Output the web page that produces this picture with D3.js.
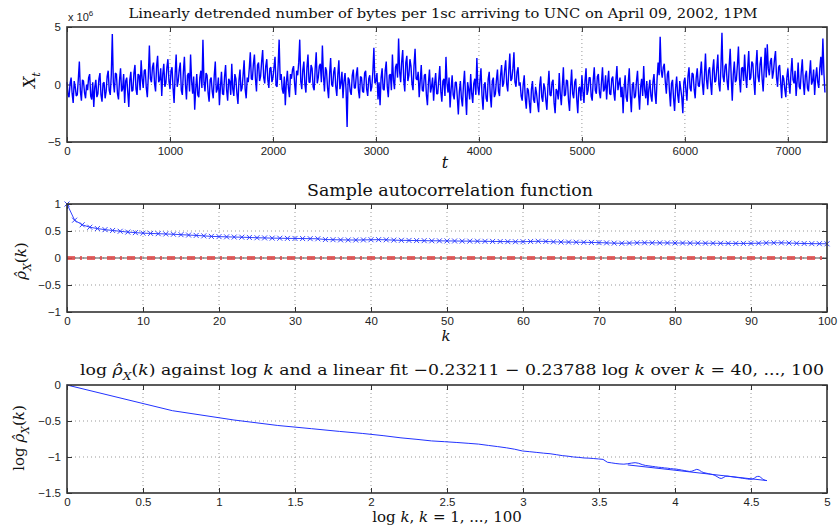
<!DOCTYPE html>
<html>
<head>
<meta charset="utf-8">
<script src="https://cdn.jsdelivr.net/npm/d3@7"></script>
<style>
    body { margin: 0; background: #fff; }
    svg text { font-family: "Liberation Sans", Arial, sans-serif; }
    .axis .tick text { font-size: 11.5px; fill: #222; }
    .axis .tick line { stroke: #333; }
    .grid line { stroke: #999; stroke-dasharray: 1,3; }
    .serif { font-family: "DejaVu Serif", "Liberation Serif", serif; fill: #111; }
</style>
</head>
<body>
<svg id="chart" width="840" height="526"></svg>
<script>
// ---- data ----

// detrended bytes per 1sc, in units of 10^6, read every 10 sc
const trafficStep = 10;
const traffic = [
    0.2, -0.9, -1.1, 0.1, 0.6, -0.8, -1.6, 0.3, -0.2, -1.0, -0.9, 0.5, 2.0, -0.6, -1.4, 0.4, 0.3, -0.7, -1.2, 0.0,
    -0.5, 0.6, 0.9, -1.0, -1.3, 0.2, -1.95, -0.2, 0.4, -1.1, -0.8, 0.5, 1.0, -0.9, -1.5, 0.1, 0.2, -1.2, -0.6, 0.7,
    1.2, -0.5, -0.9, 0.8, 4.4, 0.2, -0.7, 1.0, 0.9, -0.8, -1.3, 0.4, 1.4, -0.6, -0.4, 0.9, -1.6, 0.3, 0.6, -0.7,
    -1.95, 0.4, 1.1, -0.6, -0.5, 1.0, 1.7, -0.4, -0.9, 0.9, 0.8, -0.5, 2.1, 0.5, -0.3, 1.2, 1.3, -0.3, -1.1, 0.8,
    3.4, 0.5, 0.2, 1.5, 1.9, 0.1, -0.6, 1.6, 2.5, 0.2, 0.4, 1.4, -1.0, 0.9, 1.8, -0.2, 0.1, 1.5, 2.2, 0.3,
    -0.4, 1.2, 1.5, -0.3, -1.6, 0.9, 2.6, -0.2, 0.3, 1.3, 1.9, -0.5, -0.9, 1.1, 2.4, 0.0, -1.3, 0.8, 1.0, -0.6,
    2.6, 0.3, -0.8, 0.7, -2.2, -0.4, 0.9, -0.9, -1.1, 0.6, 1.2, -0.3, 3.9, 0.2, -0.6, 1.0, 0.8, -0.7, -1.5, 0.4,
    0.6, -0.6, -1.2, 0.8, 2.0, -0.7, -0.4, 0.6, -1.8, -0.2, 1.1, -0.8, -0.9, 0.7, 1.7, -0.5, -1.4, 0.5, 0.3, -0.9,
    1.8, -0.4, -1.0, 0.9, 0.5, -0.8, -1.7, 0.4, 1.3, -0.6, -0.3, 0.8, 2.1, -0.4, -1.2, 0.6, 0.2, 1.4, 2.8, 0.5,
    0.4, 1.8, 2.6, 0.5, -0.6, 1.7, 1.9, 0.3, 0.7, 2.0, 3.0, 0.6, 0.1, 1.6, 2.2, 0.4, -0.3, 1.4, 1.5, 0.2,
    0.6, 1.5, 2.4, -0.1, -0.2, 1.6, 3.9, 0.4, 0.9, -0.4, -0.8, 0.7, -1.8, 0.2, 1.2, -0.3, -1.1, 0.9, 0.5, 1.3,
    1.6, 0.1, -0.9, 1.2, 0.8, 1.9, 3.9, 0.3, -0.4, 1.3, 2.0, 0.0, -0.7, 1.5, 2.6, 0.2, 0.2, 1.7, 1.4, -0.2,
    -0.5, 1.4, 2.8, 0.1, 0.6, 1.6, 1.8, 0.2, 3.4, 0.8, -0.6, 1.5, 1.2, -0.3, -1.2, 0.9, 2.3, 0.0, -0.2, 1.1,
    1.5, -0.2, -1.0, 0.9, 2.1, -0.4, 0.1, 1.1, -1.2, 0.3, 1.0, -0.5, -3.7, 0.6, 0.4, -0.6, -0.9, 0.8, 1.3, -0.3,
    -0.3, 0.9, 1.5, -0.5, -1.2, 0.7, 0.6, -0.6, -0.7, 1.0, 1.2, -0.4, -1.0, 0.5, 0.8, -0.6, -0.2, 1.1, 3.2, 0.1,
    0.3, 1.0, -1.3, 0.2, -1.8, 0.6, 1.4, -0.4, -0.5, 1.2, 2.0, -0.2, -1.1, 0.8, 0.9, -0.5, 2.6, 0.4, -0.4, 1.5,
    1.8, 0.6, 4.0, 1.1, 0.2, 2.0, 3.0, 0.4, -0.6, 1.9, 2.5, 0.3, 0.8, 2.2, 1.6, 0.1, -0.5, 1.7, 3.1, 0.5,
    0.4, 1.1, -1.1, 0.3, 1.7, -0.5, -0.6, 0.8, 0.9, -0.9, -1.8, 0.2, 1.3, -0.7, -0.2, 0.6, -1.4, 0.1, 1.0, -0.8,
    -0.8, 0.4, 1.6, -0.6, -1.5, 0.3, 0.5, -1.0, 2.4, 0.1, -0.7, 0.6, -2.0, -0.4, 0.8, -0.9, -1.3, 0.2, 0.2, -1.1,
    -2.6, -0.6, 0.3, -1.2, -1.9, 0.0, 1.2, -1.0, -2.65, 0.2, -0.4, -1.3, 0.9, -0.8, -1.6, 0.1, 0.5, -0.9, 2.3, -0.2,
    -0.9, 0.4, 1.4, -1.0, -2.2, -0.1, 0.2, -1.2, -1.5, 0.5, 1.1, -0.9, -2.0, 0.3, 0.6, -1.1, -0.8, 0.4, 1.3, -0.6,
    -1.0, 0.8, 1.7, -0.2, 0.1, 1.3, 2.1, 0.0, -0.6, 1.2, 2.7, 0.3, 0.5, 1.4, 2.8, 0.2, -0.2, 1.1, 1.5, -0.1,
    0.2, -1.0, -1.4, 0.0, 0.8, -1.2, -2.1, -0.3, -0.5, -1.6, -2.5, -0.4, 0.3, -1.3, -1.6, -0.2, -0.8, -1.7, -2.4, -0.1,
    0.7, -1.1, -1.5, 0.1, -0.3, -1.4, -2.2, -0.2, 1.2, -0.9, -1.0, 0.2, 0.4, -1.6, -2.5, -0.4, -0.6, -1.3, 1.0, -0.8,
    -1.8, -0.1, 1.5, -1.0, -0.9, 0.4, 0.3, -1.4, -2.3, -0.2, 1.3, -0.8, -1.2, 0.2, 0.5, -1.3, -2.5, -0.3, -0.2, -1.4,
    0.8, -0.6, -1.6, 0.3, 1.4, -0.9, -0.5, 0.6, 0.6, -1.0, -1.4, 0.4, 1.5, -0.5, -0.8, 0.7, 0.9, -0.7, -1.2, 0.2,
    1.5, -0.6, -0.4, 0.8, -1.3, 0.2, 1.2, -0.8, -0.9, 0.5, 0.7, -0.7, -1.4, 0.4, 1.6, -0.5, 0.1, 0.6, -1.1, -0.2,
    -2.5, -0.3, 0.8, -1.1, -1.5, 0.2, 1.4, -0.9, -2.4, -0.1, 0.2, -1.2, -1.0, 0.3, 1.2, -0.8, -2.2, -0.2, 0.5, -1.0,
    1.6, -0.5, -1.2, 0.3, -1.8, -0.4, 0.4, -1.0, -1.5, 0.2, 0.9, -0.8, -1.7, 0.5, 1.9, 0.8, 4.15, 1.2, 0.6, 1.5,
    1.8, 0.2, -0.8, 0.9, 1.2, -0.6, -1.9, 0.1, 0.4, -1.2, -2.3, -0.3, 0.7, -0.9, -1.6, 0.3, -0.4, -1.1, -2.5, 0.2,
    0.6, -0.5, -1.4, 0.7, 1.5, -0.3, -0.6, 1.0, 0.9, -0.4, -1.2, 0.6, 1.4, -0.1, -0.2, 0.9, 2.0, 0.1, -0.9, 0.8,
    2.7, 0.4, -0.4, 1.2, 1.5, 0.1, -0.9, 1.3, 2.2, 0.2, 0.3, 1.4, 2.6, 0.0, -0.6, 1.5, 4.5, 0.7, 0.2, 1.6,
    1.8, 0.3, -0.5, 1.6, 3.1, 0.6, -1.4, 0.9, 2.0, 0.2, 0.4, 1.7, 3.3, 0.5, -0.7, 1.4, 1.5, 0.3, 2.6, 0.8,
    -0.3, 1.5, 2.9, 0.4, 0.6, 2.0, 1.8, 0.3, -0.9, 1.6, 3.0, 0.7, 0.2, 1.8, 2.4, 0.5, -0.6, 1.3, 3.2, 0.6,
    3.5, 1.4, 0.8, 2.0, 2.3, 0.5, 1.1, 2.2, 2.9, 0.6, -0.2, 1.5, 1.7, 0.2, -1.2, 0.8, 0.5, -0.4, -1.1, 0.6,
    1.4, 0.1, -0.8, 1.0, 2.3, 0.4, 0.1, 1.2, -1.0, 0.3, 1.9, -0.2, -0.4, 1.1, 2.2, 0.2, -0.9, 0.8, 1.2, -0.3,
    -0.6, 0.9, 2.1, 0.0, 0.3, 1.3, -0.9, 0.6, 1.5, 0.2, -0.3, 1.4, 2.4, 0.8, 4.0, 1.0, -0.7
];

// sample autocorrelation, lags k = 0..100
const acf = [
    1.00, 0.70, 0.615, 0.57, 0.545, 0.525, 0.51, 0.495, 0.48, 0.47,
    0.46, 0.455, 0.45, 0.445, 0.44, 0.432, 0.425, 0.418, 0.41, 0.40,
    0.396, 0.392, 0.388, 0.385, 0.38, 0.375, 0.372, 0.368, 0.366, 0.363,
    0.362, 0.36, 0.358, 0.356, 0.342, 0.339, 0.336, 0.334, 0.333, 0.335,
    0.338, 0.340, 0.337, 0.331, 0.327, 0.325, 0.323, 0.321, 0.319, 0.318,
    0.316, 0.315, 0.313, 0.312, 0.311, 0.309, 0.307, 0.305, 0.303, 0.301,
    0.302, 0.306, 0.310, 0.307, 0.300, 0.296, 0.294, 0.292, 0.290, 0.288,
    0.285, 0.280, 0.275, 0.273, 0.276, 0.281, 0.282, 0.281, 0.280, 0.279,
    0.278, 0.277, 0.276, 0.275, 0.274, 0.273, 0.272, 0.271, 0.270, 0.270,
    0.271, 0.274, 0.279, 0.281, 0.281, 0.277, 0.272, 0.268, 0.266, 0.265,
    0.263
];

// linear fit from the title: intercept, slope, k range
const fitCoef = [-0.23211, -0.23788];
const fitK = [40, 100];

// tick labels
const tTicks = [0, 1000, 2000, 3000, 4000, 5000, 6000, 7000];
const xtTicks = [-5, 0, 5];
const kTicks = [0, 10, 20, 30, 40, 50, 60, 70, 80, 90, 100];
const acfTicks = [-1, -0.5, 0, 0.5, 1];
const logkTicks = [0, 0.5, 1, 1.5, 2, 2.5, 3, 3.5, 4, 4.5, 5];
const logAcfTicks = [-1.5, -1, -0.5, 0];

// ---- drawing ----
const svg = d3.select("#chart");
const fmt = d3.format("~g");

function makePanel(top, height, xDomain, yDomain, xTicks, yTicks) {
    let p = {};
    p.left = 67;
    p.top = top;
    p.width = 760;
    p.height = height;

    p.g = svg.append("g").attr("transform", `translate(${p.left},${p.top})`);
    p.x = d3.scaleLinear().domain(xDomain).range([0, p.width]);
    p.y = d3.scaleLinear().domain(yDomain).range([p.height, 0]);

    // dotted grid
    let grid = p.g.append("g").attr("class", "grid");
    grid.selectAll(".gx").data(xTicks.slice(1).filter(d => p.x(d) < p.width - 1)).join("line")
        .attr("x1", d => p.x(d)).attr("x2", d => p.x(d))
        .attr("y1", 0).attr("y2", p.height);
    grid.selectAll(".gy").data(yTicks.slice(1, -1)).join("line")
        .attr("y1", d => p.y(d)).attr("y2", d => p.y(d))
        .attr("x1", 0).attr("x2", p.width);

    // axes with inward ticks, box style
    let ax = d3.axisBottom(p.x).tickValues(xTicks).tickFormat(fmt).tickSizeInner(-5).tickSizeOuter(0).tickPadding(5);
    let ay = d3.axisLeft(p.y).tickValues(yTicks).tickFormat(fmt).tickSizeInner(-5).tickSizeOuter(0).tickPadding(6);
    p.g.append("g").attr("class", "axis").attr("transform", `translate(0,${p.height})`).call(ax);
    p.g.append("g").attr("class", "axis").call(ay);
    p.g.append("g").attr("class", "axis")
        .call(d3.axisTop(p.x).tickValues(xTicks).tickFormat("").tickSizeInner(-5).tickSizeOuter(0));
    p.g.append("g").attr("class", "axis").attr("transform", `translate(${p.width},0)`)
        .call(d3.axisRight(p.y).tickValues(yTicks).tickFormat("").tickSizeInner(-5).tickSizeOuter(0));
    p.g.selectAll(".axis .domain").remove();

    return p;
}

function frame(p) {
    p.g.append("rect")
        .attr("width", p.width).attr("height", p.height)
        .attr("fill", "none").attr("stroke", "#333").attr("stroke-width", 1.6);
}

// write a string of [text, style] parts, style: "i" italic, "s" italic subscript, "u" back up after a subscript
function mathText(sel, parts, size) {
    parts.forEach(([txt, st]) => {
        let t = sel.append("tspan").text(txt);
        if (st === "i" || st === "s") t.attr("font-style", "italic");
        if (st === "s") t.attr("font-size", size * 0.72).attr("dy", size * 0.3);
        if (st === "u") t.attr("dy", -size * 0.3);
    });
}

// ---- panel 1: traffic time series ----
let p1 = makePanel(27, 115, [0, 7380], [-5, 5], tTicks, xtTicks);

p1.g.append("path")
    .datum(traffic)
    .attr("fill", "none")
    .attr("stroke", "#0000ff")
    .attr("stroke-width", 1.4)
    .attr("stroke-linejoin", "bevel")
    .attr("d", d3.line().x((d, i) => p1.x(i * trafficStep)).y(d => p1.y(d)));
frame(p1);

svg.append("text").attr("x", 68).attr("y", 21).attr("font-size", 11).attr("fill", "#222")
    .text("x 10").append("tspan").attr("dy", -5).attr("font-size", 8).text("6");

svg.append("text").attr("class", "serif").attr("x", 443).attr("y", 18)
    .attr("text-anchor", "middle").attr("font-size", 13)
    .attr("textLength", 629).attr("lengthAdjust", "spacingAndGlyphs")
    .text("Linearly detrended number of bytes per 1sc arriving to UNC on April 09, 2002, 1PM");

let yl1 = svg.append("text").attr("class", "serif").attr("font-size", 16)
    .attr("transform", "translate(35,80) rotate(-90)").attr("text-anchor", "middle");
mathText(yl1, [["X", "i"], ["t", "s"]], 16);

svg.append("text").attr("class", "serif").attr("x", 445).attr("y", 168)
    .attr("font-size", 16).attr("font-style", "italic").attr("text-anchor", "middle").text("t");

// ---- panel 2: sample ACF ----
let p2 = makePanel(204, 108, [0, 100], [-1, 1], kTicks, acfTicks);

p2.g.append("line")
    .attr("x1", 0).attr("x2", p2.width).attr("y1", p2.y(0)).attr("y2", p2.y(0))
    .attr("stroke", "#555").attr("stroke-width", 1);
p2.g.append("line")
    .attr("x1", 0).attr("x2", p2.width).attr("y1", p2.y(0)).attr("y2", p2.y(0))
    .attr("stroke", "#e34545").attr("stroke-opacity", 0.8).attr("stroke-width", 4)
    .attr("stroke-dasharray", "8,5,2,5");

p2.g.append("path")
    .datum(acf)
    .attr("fill", "none")
    .attr("stroke", "#3344ff")
    .attr("stroke-width", 1)
    .attr("d", d3.line().x((d, i) => p2.x(i)).y(d => p2.y(d)));

p2.g.selectAll(".mark").data(acf).join("path")
    .attr("class", "mark")
    .attr("transform", (d, i) => `translate(${p2.x(i)},${p2.y(d)})`)
    .attr("d", "M-2.5,-2.5L2.5,2.5M-2.5,2.5L2.5,-2.5")
    .attr("stroke", "#2233ff").attr("stroke-width", 0.9);
frame(p2);

svg.append("text").attr("class", "serif").attr("x", 450).attr("y", 196)
    .attr("text-anchor", "middle").attr("font-size", 16)
    .attr("textLength", 286).attr("lengthAdjust", "spacingAndGlyphs")
    .text("Sample autocorrelation function");

let yl2 = svg.append("text").attr("class", "serif").attr("font-size", 15)
    .attr("transform", "translate(26,261) rotate(-90)").attr("text-anchor", "middle");
mathText(yl2, [["ρ\u0302", "i"], ["X", "s"], ["(", "u"], ["k", "i"], [")", ""]], 15);

svg.append("text").attr("class", "serif").attr("x", 446).attr("y", 341)
    .attr("font-size", 15).attr("font-style", "italic").attr("text-anchor", "middle").text("k");

// ---- panel 3: log-log ACF with linear fit ----
let p3 = makePanel(385, 108, [0, 5], [-1.5, 0], logkTicks, logAcfTicks);

// k = 1..100 against acf at lag k-1
let logPts = acf.slice(0, 100).map((r, i) => [Math.log(i + 1), Math.log(r)]);
let lineXY = d3.line().x(d => p3.x(d[0])).y(d => p3.y(d[1]));

p3.g.append("path")
    .datum(logPts)
    .attr("fill", "none").attr("stroke", "#2233ff").attr("stroke-width", 1)
    .attr("d", lineXY);

let fitPts = fitK.map(k => [Math.log(k), fitCoef[0] + fitCoef[1] * Math.log(k)]);
p3.g.append("path")
    .datum(fitPts)
    .attr("fill", "none").attr("stroke", "#2233ff").attr("stroke-width", 1)
    .attr("d", lineXY);
frame(p3);

let t3 = svg.append("text").attr("class", "serif").attr("x", 452).attr("y", 375)
    .attr("text-anchor", "middle").attr("font-size", 15)
    .attr("textLength", 744).attr("lengthAdjust", "spacingAndGlyphs");
mathText(t3, [["log ", ""], ["ρ\u0302", "i"], ["X", "s"], ["(", "u"], ["k", "i"], [") against log ", ""],
    ["k", "i"], [" and a linear fit \u22120.23211 \u2212 0.23788 log ", ""], ["k", "i"],
    [" over ", ""], ["k", "i"], [" = 40, ..., 100", ""]], 15);

let yl3 = svg.append("text").attr("class", "serif").attr("font-size", 15)
    .attr("transform", "translate(24,438) rotate(-90)").attr("text-anchor", "middle");
mathText(yl3, [["log ", ""], ["ρ\u0302", "i"], ["X", "s"], ["(", "u"], ["k", "i"], [")", ""]], 15);

let xl3 = svg.append("text").attr("class", "serif").attr("x", 447).attr("y", 522)
    .attr("font-size", 15).attr("text-anchor", "middle");
mathText(xl3, [["log ", ""], ["k", "i"], [", ", ""], ["k", "i"], [" = 1, ..., 100", ""]], 15);
</script>
</body>
</html>
